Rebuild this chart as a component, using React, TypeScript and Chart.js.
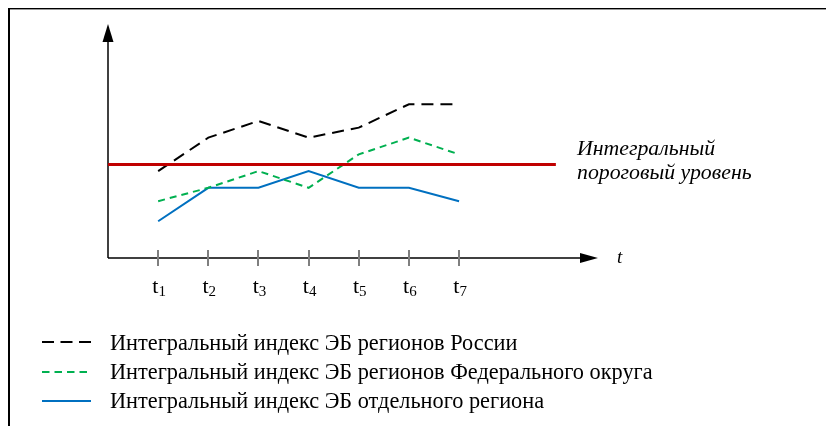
import React, { useEffect, useRef } from 'react';
import { Chart, registerables } from 'chart.js';

Chart.register(...registerables);

// ---- data ----
const TICK_LABELS = ['t1', 't2', 't3', 't4', 't5', 't6', 't7'];
const TIME_POINTS = [1, 2, 3, 4, 5, 6, 7];
const RUSSIA_INDEX = [5.2, 7.2, 8.2, 7.2, 7.8, 9.2, 9.2];
const FEDERAL_INDEX = [3.4, 4.2, 5.2, 4.2, 6.2, 7.2, 6.2];
const REGION_INDEX = [2.2, 4.2, 4.2, 5.2, 4.2, 4.2, 3.4];
const THRESHOLD_LEVEL = 5.6;
const THRESHOLD_SPAN = [0, 8.93];
const SERIES_NAMES = [
  'Интегральный индекс ЭБ регионов России',
  'Интегральный индекс ЭБ регионов Федерального округа',
  'Интегральный индекс ЭБ отдельного региона',
];
const THRESHOLD_LABEL = ['Интегральный', 'пороговый уровень'];
const AXIS_LABEL = 't';

const BLACK = '#000000';
const GREEN = '#00b050';
const BLUE = '#0070c0';
const RED = '#c00000';
const SERIF = '"Liberation Serif", "Times New Roman", Times, serif';

const W = 826;
const H = 418;

const axesPlugin = {
  id: 'arrowAxes',
  beforeDatasetsDraw(chart: any) {
    const { ctx, chartArea } = chart;
    const { left, bottom, top } = chartArea;
    const xEnd = 590;
    ctx.save();
    ctx.strokeStyle = '#000';
    ctx.fillStyle = '#000';
    ctx.lineWidth = 1.5;
    // y axis
    ctx.beginPath();
    ctx.moveTo(left, bottom);
    ctx.lineTo(left, top + 12);
    ctx.stroke();
    ctx.beginPath();
    ctx.moveTo(left, top);
    ctx.lineTo(left - 5.5, top + 18);
    ctx.lineTo(left + 5.5, top + 18);
    ctx.closePath();
    ctx.fill();
    // x axis
    ctx.beginPath();
    ctx.moveTo(left, bottom);
    ctx.lineTo(xEnd - 12, bottom);
    ctx.stroke();
    ctx.beginPath();
    ctx.moveTo(xEnd, bottom);
    ctx.lineTo(xEnd - 18, bottom - 5);
    ctx.lineTo(xEnd - 18, bottom + 5);
    ctx.closePath();
    ctx.fill();
    // tick marks
    const xs = chart.scales.x;
    ctx.strokeStyle = '#7f7f7f';
    ctx.lineWidth = 2;
    TIME_POINTS.forEach((v) => {
      const px = Math.round(xs.getPixelForValue(v));
      ctx.beginPath();
      ctx.moveTo(px, bottom - 8);
      ctx.lineTo(px, bottom + 8);
      ctx.stroke();
    });
    ctx.restore();
  },
  afterDraw(chart: any) {
    const { ctx, chartArea } = chart;
    const xs = chart.scales.x;
    ctx.save();
    ctx.fillStyle = '#000';
    ctx.textBaseline = 'alphabetic';
    TIME_POINTS.forEach((v, i) => {
      const px = xs.getPixelForValue(v);
      const label = TICK_LABELS[i];
      const base = label.slice(0, 1);
      const sub = label.slice(1);
      ctx.font = `22px ${SERIF}`;
      const bw = ctx.measureText(base).width;
      ctx.font = `15px ${SERIF}`;
      const sw = ctx.measureText(sub).width;
      const x0 = px + 1 - (bw + sw) / 2;
      const y0 = chartArea.bottom + 35;
      ctx.font = `22px ${SERIF}`;
      ctx.textAlign = 'left';
      ctx.fillText(base, x0, y0);
      ctx.font = `15px ${SERIF}`;
      ctx.fillText(sub, x0 + bw, y0 + 3);
    });
    ctx.font = `italic 19px ${SERIF}`;
    ctx.textAlign = 'left';
    ctx.textBaseline = 'middle';
    ctx.fillText(AXIS_LABEL, 609, chartArea.bottom);
    ctx.restore();
  },
};

function toPoints(values: number[]) {
  return TIME_POINTS.map((x, i) => ({ x, y: values[i] }));
}

export default function App() {
  const ref = useRef<HTMLCanvasElement | null>(null);

  useEffect(() => {
    if (!ref.current) return;
    const chart = new Chart(ref.current, {
      type: 'line',
      data: {
        datasets: [
          {
            label: 'threshold',
            data: THRESHOLD_SPAN.map((x) => ({ x, y: THRESHOLD_LEVEL })),
            borderColor: RED,
            borderWidth: 3,
            pointRadius: 0,
          },
          {
            label: SERIES_NAMES[0],
            data: toPoints(RUSSIA_INDEX),
            borderColor: BLACK,
            borderWidth: 2,
            borderDash: [12, 7],
            pointRadius: 0,
          },
          {
            label: SERIES_NAMES[1],
            data: toPoints(FEDERAL_INDEX),
            borderColor: GREEN,
            borderWidth: 2,
            borderDash: [7, 5],
            pointRadius: 0,
          },
          {
            label: SERIES_NAMES[2],
            data: toPoints(REGION_INDEX),
            borderColor: BLUE,
            borderWidth: 2,
            pointRadius: 0,
          },
        ],
      },
      options: {
        responsive: false,
        animation: false,
        devicePixelRatio: 1,
        layout: { padding: { left: 100, right: W - 590, top: 16, bottom: H - 250 } },
        plugins: { legend: { display: false }, tooltip: { enabled: false }, title: { display: false } },
        elements: { line: { tension: 0 } },
        scales: {
          x: { type: 'linear', min: 0, max: 9.77, display: false },
          y: { type: 'linear', min: 0, max: 14, display: false },
        },
      } as any,
      plugins: [axesPlugin],
    });
    return () => chart.destroy();
  }, []);

  const legendColors = [BLACK, GREEN, BLUE];
  const legendDash = ['12 6.5', '7.5 5', ''];
  const legendLineY = [334, 364, 393];
  const legendTextTop = [324.4, 353.4, 382.4];

  return (
    <div style={{ position: 'relative', width: W, height: H, fontFamily: SERIF }}>
      <div style={{ position: 'absolute', left: 0, top: -1, width: W, height: 2, background: '#000' }} />
      <div style={{ position: 'absolute', left: 0, top: 1, width: W, height: 1, background: '#999' }} />
      <div style={{ position: 'absolute', left: 0, top: 0, width: 2, height: H, background: '#000' }} />
      <canvas ref={ref} width={W} height={H} style={{ position: 'absolute', left: 0, top: 0, width: W, height: H }} />
      <div style={{ position: 'absolute', left: 569, top: 127.6, fontStyle: 'italic', fontSize: 21.8, lineHeight: '24px', color: '#000', whiteSpace: 'nowrap' }}>
        {THRESHOLD_LABEL[0]}
        <br />
        {THRESHOLD_LABEL[1]}
      </div>
      <svg style={{ position: 'absolute', left: 0, top: 0 }} width={W} height={H}>
        {legendColors.map((c, i) => (
          <line key={i} x1={34} x2={83} y1={legendLineY[i]} y2={legendLineY[i]} stroke={c} strokeWidth={2} strokeDasharray={legendDash[i] || undefined} />
        ))}
      </svg>
      {SERIES_NAMES.map((name, i) => (
        <div key={i} style={{ position: 'absolute', left: 102, top: legendTextTop[i], fontSize: 22.3, lineHeight: '22px', color: '#000', whiteSpace: 'nowrap' }}>
          {name}
        </div>
      ))}
    </div>
  );
}
